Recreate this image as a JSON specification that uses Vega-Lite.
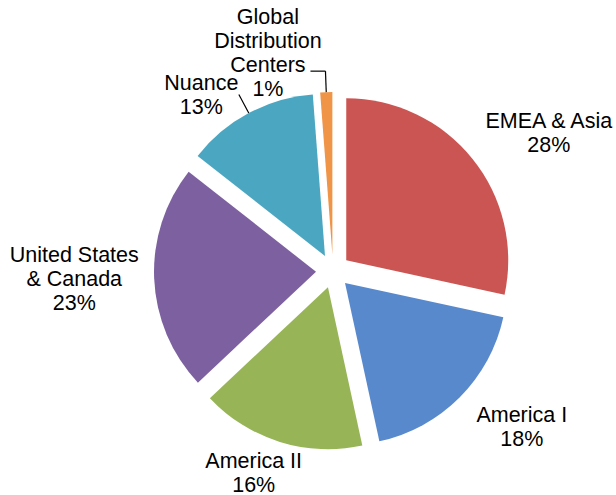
{
  "$schema": "https://vega.github.io/schema/vega-lite/v6.json",
  "width": 400,
  "height": 400,
  "autosize": "none",
  "padding": {"left": 133, "top": 71, "right": 83, "bottom": 24},
  "background": "white",
  "config": {"view": {"stroke": null}},
  "data": {
    "values": [
      {"k": 1, "name": "EMEA & Asia", "share": 28.4, "label": "EMEA & Asia\n28%"},
      {"k": 2, "name": "America I", "share": 18.2, "label": "America I\n18%"},
      {"k": 3, "name": "America II", "share": 16.4, "label": "America II\n16%"},
      {"k": 4, "name": "United States & Canada", "share": 22.6, "label": "United States\n& Canada\n23%"},
      {"k": 5, "name": "Nuance", "share": 13.2, "label": "Nuance\n13%"},
      {"k": 6, "name": "Global Distribution Centers", "share": 1.2, "label": "Global\nDistribution\nCenters\n1%"}
    ]
  },
  "layer": [
    {
      "mark": {
        "type": "arc",
        "outerRadius": 162,
        "xOffset": {"expr": "17*sin((scale('theta', datum.share_start) + scale('theta', datum.share_end))/2)"},
        "yOffset": {"expr": "-17*cos((scale('theta', datum.share_start) + scale('theta', datum.share_end))/2)"}
      },
      "encoding": {
        "theta": {"field": "share", "type": "quantitative", "stack": true},
        "order": {"field": "k", "type": "quantitative"},
        "color": {
          "field": "name",
          "type": "nominal",
          "scale": {
            "domain": ["EMEA & Asia", "America I", "America II", "United States & Canada", "Nuance", "Global Distribution Centers"],
            "range": ["#CB5552", "#5889CC", "#97B556", "#7C609F", "#4BA7C1", "#F09447"]
          },
          "legend": null
        }
      }
    },
    {
      "transform": [
        {"stack": "share", "groupby": [], "sort": [{"field": "k", "order": "ascending"}], "as": ["s0", "s1"]},
        {"filter": "datum.k >= 5"}
      ],
      "mark": {"type": "rule", "color": "#000000", "strokeWidth": 1.2},
      "encoding": {
        "x": {"value": {"expr": "width/2 + 179*sin((scale('theta', datum.s0) + scale('theta', datum.s1))/2)"}},
        "y": {"value": {"expr": "height/2 - 179*cos((scale('theta', datum.s0) + scale('theta', datum.s1))/2)"}},
        "x2": {"value": {"expr": "width/2 + 200*sin((scale('theta', datum.s0) + scale('theta', datum.s1))/2)"}},
        "y2": {"value": {"expr": "height/2 - 200*cos((scale('theta', datum.s0) + scale('theta', datum.s1))/2)"}}
      }
    },
    {
      "transform": [
        {"stack": "share", "groupby": [], "sort": [{"field": "k", "order": "ascending"}], "as": ["s0", "s1"]},
        {"filter": "datum.k == 6"}
      ],
      "mark": {"type": "rule", "color": "#000000", "strokeWidth": 1.2},
      "encoding": {
        "x": {"value": {"expr": "width/2 + 200*sin((scale('theta', datum.s0) + scale('theta', datum.s1))/2)"}},
        "y": {"value": {"expr": "height/2 - 200*cos((scale('theta', datum.s0) + scale('theta', datum.s1))/2)"}},
        "x2": {"value": {"expr": "width/2 + 200*sin((scale('theta', datum.s0) + scale('theta', datum.s1))/2) - 15"}},
        "y2": {"value": {"expr": "height/2 - 200*cos((scale('theta', datum.s0) + scale('theta', datum.s1))/2)"}}
      }
    },
    {
      "mark": {
        "type": "text",
        "radius": 0,
        "font": "Liberation Sans",
        "fontSize": 21.5,
        "lineHeight": 24,
        "lineBreak": "\n",
        "align": "center",
        "baseline": "middle",
        "color": "#000000",
        "dx": {"expr": "267*sin((scale('theta', datum.share_start) + scale('theta', datum.share_end))/2) + (datum.k == 6 ? -55 : datum.k == 5 ? -6 : datum.k == 4 ? 8 : datum.k == 1 ? 8 : 0)"},
        "dy": {"expr": "-213*cos((scale('theta', datum.share_start) + scale('theta', datum.share_end))/2) - (length(split(datum.label, '\\n')) - 1)*12 + (datum.k == 6 ? -4 : datum.k == 5 ? 13 : datum.k == 1 ? -3 : datum.k == 2 ? 6 : 0)"}
      },
      "encoding": {
        "theta": {"field": "share", "type": "quantitative", "stack": true},
        "order": {"field": "k", "type": "quantitative"},
        "text": {"field": "label", "type": "nominal"}
      }
    }
  ]
}
